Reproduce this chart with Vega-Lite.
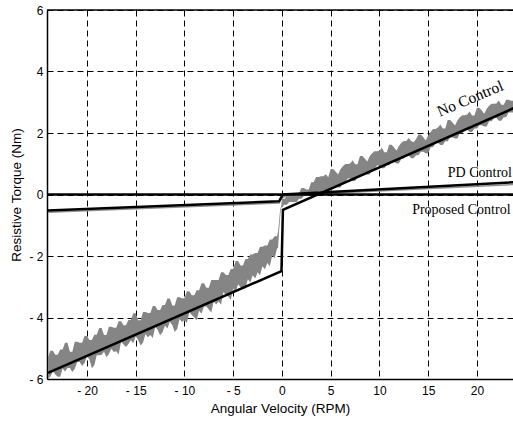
{
  "$schema": "https://vega.github.io/schema/vega-lite/v6.json",
  "width": 466,
  "height": 369,
  "autosize": "none",
  "padding": {"left": 47, "top": 10, "right": 0, "bottom": 43},
  "background": "white",
  "config": {
    "view": {"stroke": null},
    "axis": {
      "grid": true,
      "gridColor": "#000000",
      "gridOpacity": 1,
      "gridWidth": 1,
      "gridDash": [6, 4],
      "ticks": false,
      "domainColor": "#000000",
      "domainWidth": 1.5,
      "labelFont": "Liberation Sans",
      "labelFontSize": 12,
      "labelColor": "#000000",
      "titleFont": "Liberation Sans",
      "titleFontSize": 13.5,
      "titleFontWeight": "normal",
      "titleColor": "#000000"
    }
  },
  "datasets": {
    "band": [
      {"x": -24.0, "lo": -5.98, "hi": -5.30}, {"x": -23.75, "lo": -5.92, "hi": -5.08}, {"x": -23.5, "lo": -5.75, "hi": -5.08}, {"x": -23.25, "lo": -5.85, "hi": -5.21},
      {"x": -23.0, "lo": -5.93, "hi": -5.21}, {"x": -22.75, "lo": -5.93, "hi": -5.04}, {"x": -22.5, "lo": -5.66, "hi": -5.04}, {"x": -22.25, "lo": -5.76, "hi": -4.82},
      {"x": -22.0, "lo": -5.64, "hi": -4.82}, {"x": -21.75, "lo": -5.64, "hi": -5.11}, {"x": -21.5, "lo": -5.77, "hi": -5.11}, {"x": -21.25, "lo": -5.67, "hi": -4.79},
      {"x": -21.0, "lo": -5.45, "hi": -4.79}, {"x": -20.75, "lo": -5.45, "hi": -4.82}, {"x": -20.5, "lo": -5.58, "hi": -4.82}, {"x": -20.25, "lo": -5.48, "hi": -4.60},
      {"x": -20.0, "lo": -5.26, "hi": -4.60}, {"x": -19.75, "lo": -5.36, "hi": -4.73}, {"x": -19.5, "lo": -5.65, "hi": -4.73}, {"x": -19.25, "lo": -5.55, "hi": -4.56},
      {"x": -19.0, "lo": -5.23, "hi": -4.56}, {"x": -18.75, "lo": -5.23, "hi": -4.34}, {"x": -18.5, "lo": -5.21, "hi": -4.34}, {"x": -18.25, "lo": -5.11, "hi": -4.57},
      {"x": -18.0, "lo": -5.29, "hi": -4.57}, {"x": -17.75, "lo": -5.19, "hi": -4.30}, {"x": -17.5, "lo": -5.02, "hi": -4.30}, {"x": -17.25, "lo": -5.12, "hi": -4.33},
      {"x": -17.0, "lo": -5.10, "hi": -4.33}, {"x": -16.75, "lo": -5.20, "hi": -4.12}, {"x": -16.5, "lo": -4.78, "hi": -4.12}, {"x": -16.25, "lo": -4.88, "hi": -4.25},
      {"x": -16.0, "lo": -4.96, "hi": -4.25}, {"x": -15.75, "lo": -4.86, "hi": -4.08}, {"x": -15.5, "lo": -4.74, "hi": -4.08}, {"x": -15.25, "lo": -4.84, "hi": -3.86},
      {"x": -15.0, "lo": -4.62, "hi": -3.86}, {"x": -14.75, "lo": -4.72, "hi": -4.09}, {"x": -14.5, "lo": -4.91, "hi": -4.09}, {"x": -14.25, "lo": -4.81, "hi": -3.82},
      {"x": -14.0, "lo": -4.54, "hi": -3.82}, {"x": -13.75, "lo": -4.64, "hi": -3.85}, {"x": -13.5, "lo": -4.57, "hi": -3.85}, {"x": -13.25, "lo": -4.67, "hi": -3.63},
      {"x": -13.0, "lo": -4.30, "hi": -3.63}, {"x": -12.75, "lo": -4.40, "hi": -3.76}, {"x": -12.5, "lo": -4.58, "hi": -3.76}, {"x": -12.25, "lo": -4.48, "hi": -3.59},
      {"x": -12.0, "lo": -4.26, "hi": -3.59}, {"x": -11.75, "lo": -4.36, "hi": -3.38}, {"x": -11.5, "lo": -4.14, "hi": -3.38}, {"x": -11.25, "lo": -4.24, "hi": -3.61},
      {"x": -11.0, "lo": -4.47, "hi": -3.61}, {"x": -10.75, "lo": -4.37, "hi": -3.34}, {"x": -10.5, "lo": -4.05, "hi": -3.34}, {"x": -10.25, "lo": -4.15, "hi": -3.37},
      {"x": -10.0, "lo": -4.08, "hi": -3.37}, {"x": -9.75, "lo": -4.18, "hi": -3.15}, {"x": -9.5, "lo": -3.82, "hi": -3.15}, {"x": -9.25, "lo": -3.92, "hi": -3.28},
      {"x": -9.0, "lo": -3.99, "hi": -3.28}, {"x": -8.75, "lo": -4.09, "hi": -3.11}, {"x": -8.5, "lo": -3.78, "hi": -3.11}, {"x": -8.25, "lo": -3.88, "hi": -2.89},
      {"x": -8.0, "lo": -3.64, "hi": -2.89}, {"x": -7.75, "lo": -3.64, "hi": -3.03}, {"x": -7.5, "lo": -3.74, "hi": -3.03}, {"x": -7.25, "lo": -3.84, "hi": -2.78},
      {"x": -7.0, "lo": -3.48, "hi": -2.78}, {"x": -6.75, "lo": -3.58, "hi": -2.78}, {"x": -6.5, "lo": -3.48, "hi": -2.78}, {"x": -6.25, "lo": -3.58, "hi": -2.53},
      {"x": -6.0, "lo": -3.17, "hi": -2.53}, {"x": -5.75, "lo": -3.27, "hi": -2.62}, {"x": -5.5, "lo": -3.32, "hi": -2.62}, {"x": -5.25, "lo": -3.42, "hi": -2.42},
      {"x": -5.0, "lo": -3.06, "hi": -2.42}, {"x": -4.75, "lo": -3.16, "hi": -2.16}, {"x": -4.5, "lo": -2.92, "hi": -2.16}, {"x": -4.25, "lo": -3.02, "hi": -2.31},
      {"x": -4.0, "lo": -3.06, "hi": -2.31}, {"x": -3.75, "lo": -3.06, "hi": -2.10}, {"x": -3.5, "lo": -2.76, "hi": -2.10}, {"x": -3.25, "lo": -2.86, "hi": -1.95},
      {"x": -3.0, "lo": -2.63, "hi": -1.95}, {"x": -2.75, "lo": -2.73, "hi": -1.90}, {"x": -2.5, "lo": -2.53, "hi": -1.90}, {"x": -2.25, "lo": -2.63, "hi": -1.70},
      {"x": -2.0, "lo": -2.33, "hi": -1.70}, {"x": -1.75, "lo": -2.43, "hi": -1.66}, {"x": -1.5, "lo": -2.23, "hi": -1.66}, {"x": -1.25, "lo": -2.33, "hi": -1.46},
      {"x": -1.0, "lo": -1.98, "hi": -1.46}, {"x": -0.75, "lo": -2.08, "hi": -1.36}, {"x": -0.5, "lo": -1.75, "hi": -1.36}, {"x": -0.4, "lo": -1.75, "hi": -1.20},
      {"x": -0.3, "lo": -1.20, "hi": -0.90}, {"x": -0.22, "lo": -0.90, "hi": -0.60}, {"x": -0.15, "lo": -0.60, "hi": -0.45}, {"x": -0.08, "lo": -0.45, "hi": -0.38},
      {"x": 0.0, "lo": -0.40, "hi": -0.15},
      {"x": 0.25, "lo": -0.33, "hi": -0.15}, {"x": 0.5, "lo": -0.33, "hi": -0.03}, {"x": 0.75, "lo": -0.24, "hi": -0.03}, {"x": 1.0, "lo": -0.24, "hi": 0.02},
      {"x": 1.25, "lo": -0.24, "hi": 0.02}, {"x": 1.5, "lo": -0.24, "hi": 0.04}, {"x": 1.75, "lo": -0.14, "hi": 0.04}, {"x": 2.0, "lo": -0.14, "hi": 0.21},
      {"x": 2.25, "lo": -0.05, "hi": 0.21}, {"x": 2.5, "lo": -0.05, "hi": 0.16}, {"x": 2.75, "lo": -0.03, "hi": 0.16}, {"x": 3.0, "lo": -0.03, "hi": 0.40},
      {"x": 3.25, "lo": -0.01, "hi": 0.40}, {"x": 3.5, "lo": -0.01, "hi": 0.57}, {"x": 3.75, "lo": 0.11, "hi": 0.57}, {"x": 4.0, "lo": 0.11, "hi": 0.59},
      {"x": 4.25, "lo": 0.03, "hi": 0.59}, {"x": 4.5, "lo": 0.03, "hi": 0.66}, {"x": 4.75, "lo": 0.15, "hi": 0.56}, {"x": 5.0, "lo": 0.15, "hi": 0.83},
      {"x": 5.25, "lo": 0.27, "hi": 0.83}, {"x": 5.5, "lo": 0.27, "hi": 0.75}, {"x": 5.75, "lo": 0.23, "hi": 0.65}, {"x": 6.0, "lo": 0.23, "hi": 0.82},
      {"x": 6.25, "lo": 0.40, "hi": 0.92}, {"x": 6.5, "lo": 0.40, "hi": 0.99}, {"x": 6.75, "lo": 0.52, "hi": 0.99}, {"x": 7.0, "lo": 0.52, "hi": 1.01},
      {"x": 7.25, "lo": 0.44, "hi": 1.11}, {"x": 7.5, "lo": 0.44, "hi": 0.98}, {"x": 7.75, "lo": 0.56, "hi": 0.98}, {"x": 8.0, "lo": 0.56, "hi": 1.25},
      {"x": 8.25, "lo": 0.68, "hi": 1.25}, {"x": 8.5, "lo": 0.68, "hi": 1.17}, {"x": 8.75, "lo": 0.65, "hi": 1.07}, {"x": 9.0, "lo": 0.65, "hi": 1.24},
      {"x": 9.25, "lo": 0.82, "hi": 1.34}, {"x": 9.5, "lo": 0.82, "hi": 1.41}, {"x": 9.75, "lo": 0.94, "hi": 1.41}, {"x": 10.0, "lo": 0.94, "hi": 1.42},
      {"x": 10.25, "lo": 0.85, "hi": 1.52}, {"x": 10.5, "lo": 0.85, "hi": 1.37}, {"x": 10.75, "lo": 0.95, "hi": 1.37}, {"x": 11.0, "lo": 0.95, "hi": 1.62},
      {"x": 11.25, "lo": 1.06, "hi": 1.62}, {"x": 11.5, "lo": 1.06, "hi": 1.53}, {"x": 11.75, "lo": 1.01, "hi": 1.43}, {"x": 12.0, "lo": 1.01, "hi": 1.58},
      {"x": 12.25, "lo": 1.17, "hi": 1.68}, {"x": 12.5, "lo": 1.17, "hi": 1.74}, {"x": 12.75, "lo": 1.27, "hi": 1.74}, {"x": 13.0, "lo": 1.27, "hi": 1.84},
      {"x": 13.25, "lo": 1.18, "hi": 1.74}, {"x": 13.5, "lo": 1.18, "hi": 1.70}, {"x": 13.75, "lo": 1.28, "hi": 1.80}, {"x": 14.0, "lo": 1.28, "hi": 1.95},
      {"x": 14.25, "lo": 1.39, "hi": 1.95}, {"x": 14.5, "lo": 1.39, "hi": 1.86}, {"x": 14.75, "lo": 1.34, "hi": 1.76}, {"x": 15.0, "lo": 1.34, "hi": 1.93},
      {"x": 15.25, "lo": 1.54, "hi": 2.03}, {"x": 15.5, "lo": 1.54, "hi": 2.13}, {"x": 15.75, "lo": 1.68, "hi": 2.13}, {"x": 16.0, "lo": 1.68, "hi": 2.18},
      {"x": 16.25, "lo": 1.61, "hi": 2.28}, {"x": 16.5, "lo": 1.61, "hi": 2.15}, {"x": 16.75, "lo": 1.73, "hi": 2.15}, {"x": 17.0, "lo": 1.73, "hi": 2.42},
      {"x": 17.25, "lo": 1.85, "hi": 2.42}, {"x": 17.5, "lo": 1.85, "hi": 2.34}, {"x": 17.75, "lo": 1.82, "hi": 2.24}, {"x": 18.0, "lo": 1.82, "hi": 2.41},
      {"x": 18.25, "lo": 1.99, "hi": 2.51}, {"x": 18.5, "lo": 1.99, "hi": 2.58}, {"x": 18.75, "lo": 2.11, "hi": 2.58}, {"x": 19.0, "lo": 2.11, "hi": 2.60},
      {"x": 19.25, "lo": 2.03, "hi": 2.70}, {"x": 19.5, "lo": 2.03, "hi": 2.57}, {"x": 19.75, "lo": 2.15, "hi": 2.57}, {"x": 20.0, "lo": 2.15, "hi": 2.82},
      {"x": 20.25, "lo": 2.25, "hi": 2.82}, {"x": 20.5, "lo": 2.25, "hi": 2.73}, {"x": 20.75, "lo": 2.21, "hi": 2.63}, {"x": 21.0, "lo": 2.21, "hi": 2.79},
      {"x": 21.25, "lo": 2.38, "hi": 2.89}, {"x": 21.5, "lo": 2.38, "hi": 2.95}, {"x": 21.75, "lo": 2.49, "hi": 2.95}, {"x": 22.0, "lo": 2.49, "hi": 2.96},
      {"x": 22.25, "lo": 2.40, "hi": 3.06}, {"x": 22.5, "lo": 2.40, "hi": 2.92}, {"x": 22.75, "lo": 2.51, "hi": 2.92}, {"x": 23.0, "lo": 2.51, "hi": 3.08},
      {"x": 23.25, "lo": 2.67, "hi": 3.08}, {"x": 23.5, "lo": 2.67, "hi": 3.05}, {"x": 23.75, "lo": 2.67, "hi": 3.05}
    ],
    "pdgray": [
      {"x": -24.0, "y": -0.58}, {"x": -0.3, "y": -0.28}, {"x": -0.1, "y": -0.15},
      {"x": 0.3, "y": -0.06}, {"x": 5.0, "y": 0.04}, {"x": 24.0, "y": 0.33}
    ],
    "lines": [
      {"series": "No Control", "x": -24.0, "y": -5.8},
      {"series": "No Control", "x": -0.05, "y": -2.49},
      {"series": "No Control", "x": 0.1, "y": -0.5},
      {"series": "No Control", "x": 24.0, "y": 2.84},
      {"series": "PD Control", "x": -24.0, "y": -0.52},
      {"series": "PD Control", "x": -0.3, "y": -0.22},
      {"series": "PD Control", "x": 0.1, "y": 0.0},
      {"series": "PD Control", "x": 24.0, "y": 0.4},
      {"series": "Proposed Control", "x": -24.0, "y": 0.0},
      {"series": "Proposed Control", "x": 24.0, "y": 0.0}
    ],
    "labels": [
      {"text": "No Control", "x": 19.3, "y": 3.12, "angle": -23, "size": 15.5},
      {"text": "PD Control", "x": 20.3, "y": 0.7, "angle": 0, "size": 14},
      {"text": "Proposed Control", "x": 18.4, "y": -0.5, "angle": 0, "size": 14}
    ]
  },
  "layer": [
    {
      "data": {"name": "band"},
      "mark": {"type": "area", "color": "#858585", "opacity": 1, "clip": true},
      "encoding": {
        "x": {
          "field": "x", "type": "quantitative",
          "scale": {"domain": [-24.1, 23.7], "nice": false, "zero": false},
          "axis": {"values": [-20, -15, -10, -5, 0, 5, 10, 15, 20], "title": "Angular Velocity (RPM)", "labelPadding": 6, "titlePadding": 5,
                   "labelExpr": "datum.value < 0 ? '- ' + abs(datum.value) : datum.label"}
        },
        "y": {
          "field": "lo", "type": "quantitative",
          "scale": {"domain": [-6, 6], "nice": false, "zero": false},
          "axis": {"values": [-6, -4, -2, 0, 2, 4, 6], "title": "Resistive Torque (Nm)", "labelPadding": 4, "titlePadding": 5,
                   "labelExpr": "datum.value < 0 ? '- ' + abs(datum.value) : datum.label"}
        },
        "y2": {"field": "hi"}
      }
    },
    {
      "data": {"name": "pdgray"},
      "mark": {"type": "line", "color": "#909090", "strokeWidth": 1.5, "clip": true},
      "encoding": {
        "x": {"field": "x", "type": "quantitative"},
        "y": {"field": "y", "type": "quantitative"}
      }
    },
    {
      "data": {"name": "lines"},
      "mark": {"type": "line", "color": "#000000", "strokeWidth": 2.5, "clip": true},
      "encoding": {
        "x": {"field": "x", "type": "quantitative"},
        "y": {"field": "y", "type": "quantitative"},
        "detail": {"field": "series", "type": "nominal"}
      }
    },
    {
      "data": {"values": [{"top": 6}]},
      "mark": {"type": "rule", "color": "#000000", "strokeWidth": 1.5},
      "encoding": {"y": {"field": "top", "type": "quantitative"}}
    },
    {
      "data": {"name": "labels"},
      "mark": {"type": "text", "font": "Liberation Serif", "color": "#000000", "align": "center", "baseline": "middle"},
      "encoding": {
        "x": {"field": "x", "type": "quantitative"},
        "y": {"field": "y", "type": "quantitative"},
        "text": {"field": "text"},
        "angle": {"field": "angle", "type": "quantitative", "scale": null},
        "size": {"field": "size", "type": "quantitative", "scale": null}
      }
    }
  ]
}
